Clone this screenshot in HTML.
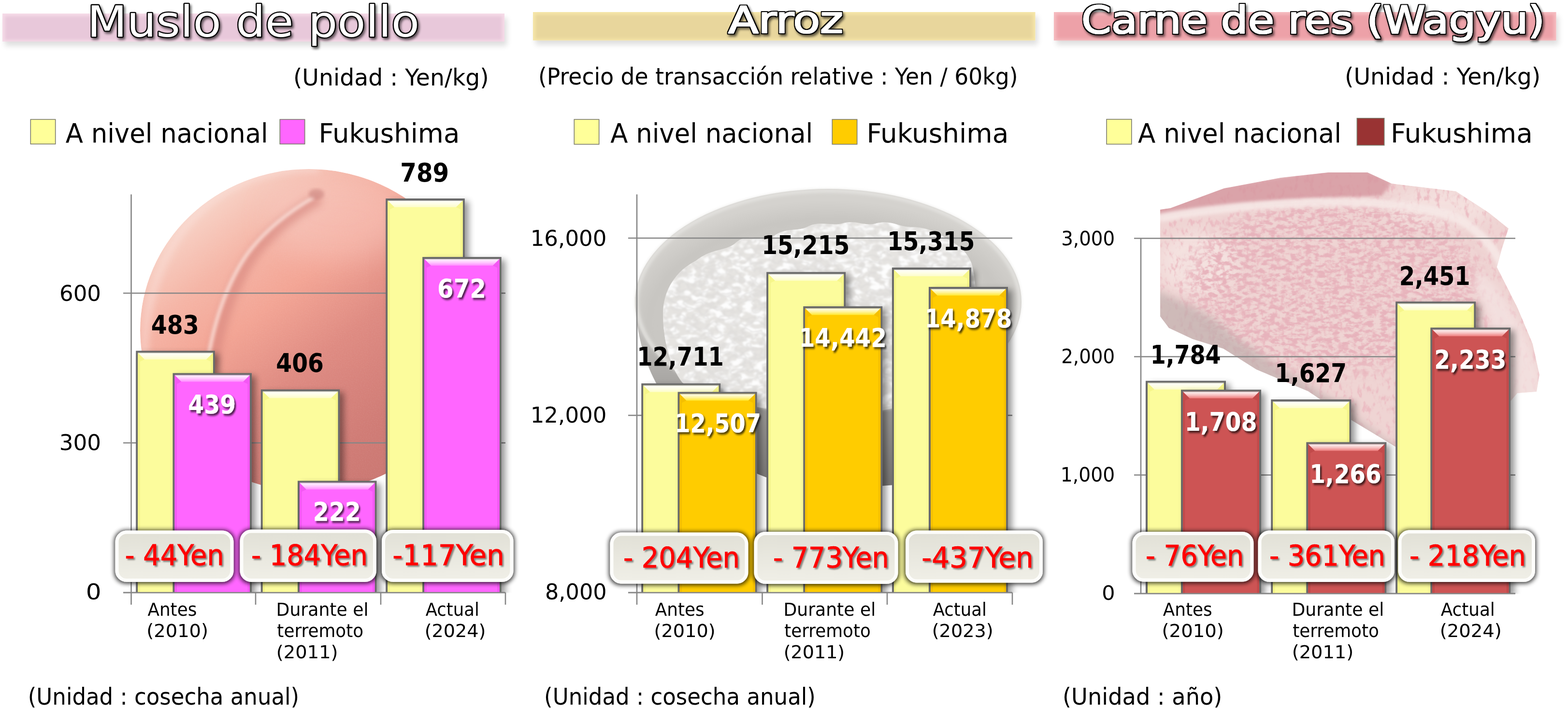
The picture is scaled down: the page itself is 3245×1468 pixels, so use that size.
<!DOCTYPE html>
<html><head><meta charset="utf-8"><title>Precios</title>
<style>html,body{margin:0;padding:0;background:#fff;width:3245px;height:1468px;overflow:hidden}svg{display:block}</style>
</head><body>
<svg width="3245" height="1468" viewBox="0 0 3245 1468" font-family="'DejaVu Sans', 'Liberation Sans', sans-serif">

<defs>
 <filter id="fBanner" x="-5%" y="-40%" width="115%" height="220%">
  <feGaussianBlur in="SourceAlpha" stdDeviation="6"/>
  <feOffset dx="5" dy="9" result="b"/>
  <feComponentTransfer><feFuncA type="linear" slope="0.13"/></feComponentTransfer>
  <feMerge><feMergeNode/><feMergeNode in="SourceGraphic"/></feMerge>
 </filter>
 <filter id="fSoft" x="-2%" y="-10%" width="104%" height="120%">
  <feGaussianBlur stdDeviation="1.2"/>
 </filter>
 <filter id="fTitle" x="-5%" y="-20%" width="110%" height="140%">
  <feGaussianBlur in="SourceAlpha" stdDeviation="2.4"/>
  <feOffset dx="3" dy="3.5"/>
  <feComponentTransfer><feFuncA type="linear" slope="0.6"/></feComponentTransfer>
  <feMerge><feMergeNode/><feMergeNode in="SourceGraphic"/></feMerge>
 </filter>
 <filter id="fTitle2" x="-5%" y="-30%" width="110%" height="170%">
  <feMorphology in="SourceAlpha" operator="dilate" radius="2.3" result="dil"/>
  <feFlood flood-color="#000" result="fl"/>
  <feComposite in="fl" in2="dil" operator="in" result="outline"/>
  <feGaussianBlur in="dil" stdDeviation="2.4" result="sb"/>
  <feOffset in="sb" dx="3" dy="3.5" result="so"/>
  <feComponentTransfer in="so" result="shadow"><feFuncA type="linear" slope="0.6"/></feComponentTransfer>
  <feMerge><feMergeNode in="shadow"/><feMergeNode in="outline"/><feMergeNode in="SourceGraphic"/></feMerge>
 </filter>
 <filter id="fBar" x="-10%" y="-5%" width="130%" height="110%">
  <feGaussianBlur in="SourceAlpha" stdDeviation="7"/>
  <feOffset dx="8" dy="6"/>
  <feComponentTransfer><feFuncA type="linear" slope="0.42"/></feComponentTransfer>
  <feMerge><feMergeNode/><feMergeNode in="SourceGraphic"/></feMerge>
 </filter>
 <filter id="fWhite" x="-10%" y="-20%" width="130%" height="150%">
  <feGaussianBlur in="SourceAlpha" stdDeviation="2"/>
  <feOffset dx="3" dy="4"/>
  <feComponentTransfer><feFuncA type="linear" slope="0.7"/></feComponentTransfer>
  <feMerge><feMergeNode/><feMergeNode in="SourceGraphic"/></feMerge>
 </filter>
 <filter id="fRed" x="-10%" y="-20%" width="130%" height="150%">
  <feGaussianBlur in="SourceAlpha" stdDeviation="1.8"/>
  <feOffset dx="3" dy="3"/>
  <feComponentTransfer><feFuncA type="linear" slope="0.45"/></feComponentTransfer>
  <feMerge><feMergeNode/><feMergeNode in="SourceGraphic"/></feMerge>
 </filter>
 <filter id="fBox" x="-10%" y="-20%" width="120%" height="150%">
  <feMorphology in="SourceAlpha" operator="dilate" radius="2" result="d"/>
  <feGaussianBlur in="d" stdDeviation="5"/>
  <feOffset dx="0" dy="1"/>
  <feComponentTransfer><feFuncA type="linear" slope="0.8"/></feComponentTransfer>
  <feMerge><feMergeNode/><feMergeNode in="SourceGraphic"/></feMerge>
 </filter>
 <filter id="fBlur3"><feGaussianBlur stdDeviation="3"/></filter>
 <filter id="fBlur8" x="-20%" y="-20%" width="140%" height="140%"><feGaussianBlur stdDeviation="8"/></filter>
 <filter id="fBlur15" x="-30%" y="-30%" width="160%" height="160%"><feGaussianBlur stdDeviation="15"/></filter>
 <filter id="fBlur30" x="-50%" y="-50%" width="200%" height="200%"><feGaussianBlur stdDeviation="30"/></filter>
 <linearGradient id="gBoxFill" x1="0" y1="0" x2="0" y2="1">
  <stop offset="0" stop-color="#e1e0d6"/><stop offset="0.45" stop-color="#e8e7de"/><stop offset="1" stop-color="#f0efe7"/>
 </linearGradient>
 <linearGradient id="gTopBevel" x1="0" y1="0" x2="0" y2="1">
  <stop offset="0" stop-color="#fff" stop-opacity="0.95"/><stop offset="0.5" stop-color="#fff" stop-opacity="0.55"/><stop offset="1" stop-color="#fff" stop-opacity="0"/>
 </linearGradient>
 <linearGradient id="gLeftBevel" x1="0" y1="0" x2="1" y2="0">
  <stop offset="0" stop-color="#000" stop-opacity="0.25"/><stop offset="1" stop-color="#000" stop-opacity="0"/>
 </linearGradient>
 <linearGradient id="gRightBevel" x1="1" y1="0" x2="0" y2="0">
  <stop offset="0" stop-color="#000" stop-opacity="0.3"/><stop offset="1" stop-color="#000" stop-opacity="0"/>
 </linearGradient>
 <linearGradient id="gPeachL" x1="0.15" y1="0.1" x2="0.85" y2="0.95">
  <stop offset="0" stop-color="#f8d8cc"/><stop offset="0.2" stop-color="#f5b5a6"/><stop offset="0.36" stop-color="#f3a494"/><stop offset="0.56" stop-color="#de8a81"/><stop offset="0.8" stop-color="#d07b75"/><stop offset="1" stop-color="#c87570"/>
 </linearGradient>
 <linearGradient id="gBowlBody" x1="0" y1="0" x2="0" y2="1">
  <stop offset="0" stop-color="#d0cecb"/><stop offset="0.45" stop-color="#a8a6a3"/><stop offset="1" stop-color="#787674"/>
 </linearGradient>
 <radialGradient id="gBowlIn" cx="0.5" cy="0.6" r="0.55">
  <stop offset="0" stop-color="#d6d4d0"/><stop offset="0.85" stop-color="#c8c6c2"/><stop offset="1" stop-color="#d4d2ce"/>
 </radialGradient>
 <radialGradient id="gRice" cx="0.5" cy="0.45" r="0.55">
  <stop offset="0" stop-color="#fbfbfb"/><stop offset="0.8" stop-color="#efefef"/><stop offset="1" stop-color="#e0e0e0"/>
 </radialGradient>
 <filter id="fRiceTex" x="0" y="0" width="100%" height="100%">
  <feTurbulence type="fractalNoise" baseFrequency="0.05 0.075" numOctaves="2" seed="3" result="n"/>
  <feColorMatrix in="n" type="matrix" values="0 0 0 0 0.98  0 0 0 0 0.98  0 0 0 0 0.98  0 0 0 -6 3.3" result="m"/>
  <feGaussianBlur stdDeviation="1.5"/>
  <feComposite in2="SourceGraphic" operator="in"/>
 </filter>
 <filter id="fRiceTex2" x="0" y="0" width="100%" height="100%">
  <feTurbulence type="fractalNoise" baseFrequency="0.045 0.07" numOctaves="2" seed="3" result="n"/>
  <feColorMatrix in="n" type="matrix" values="0 0 0 0 0.72  0 0 0 0 0.71  0 0 0 0 0.70  0 0 0 1 0" result="m"/>
  <feComponentTransfer><feFuncA type="table" tableValues="0 0 0 0 0 0.2 0.9 0.5 0 0 0 0"/></feComponentTransfer>
  <feGaussianBlur stdDeviation="1.3"/>
  <feComposite in2="SourceGraphic" operator="in"/>
 </filter>
 <filter id="fMeatTex" x="0" y="0" width="100%" height="100%">
  <feTurbulence type="fractalNoise" baseFrequency="0.10 0.055" numOctaves="3" seed="7" result="n"/>
  <feColorMatrix in="n" type="matrix" values="0 0 0 0 0.83  0 0 0 0 0.50  0 0 0 0 0.54  1 0 0 0 0" result="m"/>
  <feComponentTransfer><feFuncA type="table" tableValues="0 0 0 0 0 0 0.25 0.8 0.95 1 1"/></feComponentTransfer>
  <feComposite in2="SourceGraphic" operator="in"/>
 </filter>
 <filter id="fMeatTex2" x="0" y="0" width="100%" height="100%">
  <feTurbulence type="fractalNoise" baseFrequency="0.07 0.12" numOctaves="3" seed="11" result="n"/>
  <feColorMatrix in="n" type="matrix" values="0 0 0 0 0.80  0 0 0 0 0.45  0 0 0 0 0.50  1 0 0 0 0" result="m"/>
  <feComponentTransfer><feFuncA type="table" tableValues="0 0 0 0 0 0.3 0.85 1 1 1 1"/></feComponentTransfer>
  <feComposite in2="SourceGraphic" operator="in"/>
 </filter>
 <filter id="fPeachTex" x="0" y="0" width="100%" height="100%">
  <feTurbulence type="fractalNoise" baseFrequency="0.5" numOctaves="1" seed="2" result="n"/>
  <feColorMatrix in="n" type="matrix" values="0 0 0 0 1  0 0 0 0 0.95  0 0 0 0 0.92  0 0 0 -1.2 0.75" result="m"/>
  <feComposite in="m" in2="SourceGraphic" operator="in"/>
 </filter>
</defs>

<rect width="3245" height="1468" fill="#fff"/>
<g filter="url(#fBanner)"><rect x="5" y="28" width="1039" height="58" fill="#f6dbe8"/></g>
<rect x="10" y="33" width="1029" height="50" fill="#e8c8da" filter="url(#fBlur3)"/>
<g filter="url(#fBanner)"><rect x="1103" y="25" width="1039.5" height="58.599999999999994" fill="#f6e6a8"/></g>
<rect x="1108" y="30" width="1029.5" height="50.599999999999994" fill="#e8d69c" filter="url(#fBlur3)"/>
<g filter="url(#fBanner)"><rect x="2181" y="25" width="1039.5" height="58.8" fill="#f6bcc0"/></g>
<rect x="2186" y="30" width="1029.5" height="50.8" fill="#eda1a8" filter="url(#fBlur3)"/>
<clipPath id="cpPeach"><ellipse cx="639" cy="684" rx="349" ry="334"/></clipPath>
<g id="peach" clip-path="url(#cpPeach)">
<ellipse cx="639" cy="684" rx="349" ry="334" fill="url(#gPeachL)"/>
<ellipse cx="700" cy="450" rx="150" ry="90" fill="#f9d6d0" opacity="0.35" filter="url(#fBlur30)"/>
<path d="M300,760 C290,600 360,430 520,370 C580,350 630,345 660,350" fill="none" stroke="#fbe3de" stroke-width="14" opacity="0.6" filter="url(#fBlur8)"/>
<ellipse cx="639" cy="684" rx="349" ry="334" fill="#fff" filter="url(#fPeachTex)" opacity="0.12"/>
<path d="M662,410 C610,440 560,478 522,530 C485,585 455,660 440,760" fill="none" stroke="#d4837b" stroke-width="24" opacity="0.6" filter="url(#fBlur8)"/>
<path d="M650,408 C598,438 548,476 510,528 C473,583 443,658 428,758" fill="none" stroke="#fde6e0" stroke-width="7" opacity="0.8" filter="url(#fBlur3)"/>
<ellipse cx="655" cy="402" rx="16" ry="11" fill="#c9837e" opacity="0.55" filter="url(#fBlur3)"/>
</g>
<g id="bowl">
<path d="M1314,615 C1318,740 1360,820 1440,900 C1500,950 1560,985 1620,998 C1700,1010 1800,1010 1860,1003 C1960,930 2060,800 2113,625 Z" fill="url(#gBowlBody)"/>
<ellipse cx="1714" cy="625" rx="400" ry="234" fill="url(#gBowlIn)"/>
<ellipse cx="1714" cy="625" rx="396" ry="230" fill="none" stroke="#e6e5e2" stroke-width="7" opacity="0.9" filter="url(#fBlur3)"/>
<path d="M1372,650 C1372,600 1400,560 1440,540 C1470,515 1500,520 1520,505 C1545,480 1575,500 1600,490 C1625,470 1650,480 1670,470 C1700,455 1720,470 1745,462 C1775,455 1790,470 1815,462 C1845,455 1860,470 1885,470 C1915,470 1940,480 1960,495 C1990,510 2010,530 2014,560 C2024,620 2030,700 2012,760 C1962,822 1850,850 1714,852 C1580,852 1470,832 1412,792 C1386,760 1372,700 1372,650 Z" fill="#e6e4e1"/>
<path d="M1372,650 C1372,600 1400,560 1440,540 C1470,515 1500,520 1520,505 C1545,480 1575,500 1600,490 C1625,470 1650,480 1670,470 C1700,455 1720,470 1745,462 C1775,455 1790,470 1815,462 C1845,455 1860,470 1885,470 C1915,470 1940,480 1960,495 C1990,510 2010,530 2014,560 C2024,620 2030,700 2012,760 C1962,822 1850,850 1714,852 C1580,852 1470,832 1412,792 C1386,760 1372,700 1372,650 Z" fill="#fff" filter="url(#fRiceTex)"/>
<path d="M1372,650 C1372,600 1400,560 1440,540 C1470,515 1500,520 1520,505 C1545,480 1575,500 1600,490 C1625,470 1650,480 1670,470 C1700,455 1720,470 1745,462 C1775,455 1790,470 1815,462 C1845,455 1860,470 1885,470 C1915,470 1940,480 1960,495 C1990,510 2010,530 2014,560 C2024,620 2030,700 2012,760 C1962,822 1850,850 1714,852 C1580,852 1470,832 1412,792 C1386,760 1372,700 1372,650 Z" fill="#fff" filter="url(#fRiceTex2)" opacity="0.7"/>
</g>
<clipPath id="cpMeat"><path d="M2401,434 L2422,431 L2533,390 L2650,368 L2749,357 L2830,357 L2880,380 L3013,396 L3082,441 L3122,473 L3108,516 L3098,553 L3141,638 L3172,712 L3186,776 L3180,811 L3140,814 L3110,850 L2888,925 L2797,870 L2707,810 L2600,765 L2532,722 L2468,702 L2419,679 L2401,655 Z"/></clipPath>
<mask id="mMeatC"><rect x="2300" y="300" width="945" height="700" fill="#000"/><ellipse cx="2760" cy="590" rx="300" ry="180" fill="#fff" filter="url(#fBlur15)"/></mask>
<g id="meat" clip-path="url(#cpMeat)">
<path d="M2401,434 L2422,431 L2533,390 L2650,368 L2749,357 L2830,357 L2880,380 L3013,396 L3082,441 L3122,473 L3108,516 L3098,553 L3141,638 L3172,712 L3186,776 L3180,811 L3140,814 L3110,850 L2888,925 L2797,870 L2707,810 L2600,765 L2532,722 L2468,702 L2419,679 L2401,655 Z" fill="#efd4d3"/>
<ellipse cx="2480" cy="545" rx="80" ry="65" fill="#f5e3e1" opacity="0.9" filter="url(#fBlur15)"/>
<ellipse cx="2980" cy="430" rx="110" ry="40" fill="#f5e3e1" opacity="0.8" filter="url(#fBlur15)"/>
<path d="M2401,434 L2422,431 L2533,390 L2650,368 L2749,357 L2830,357 L2880,380 L3013,396 L3082,441 L3122,473 L3108,516 L3098,553 L3141,638 L3172,712 L3186,776 L3180,811 L3140,814 L3110,850 L2888,925 L2797,870 L2707,810 L2600,765 L2532,722 L2468,702 L2419,679 L2401,655 Z" fill="#fff" filter="url(#fMeatTex)"/>
<path d="M2401,434 L2422,431 L2533,390 L2650,368 L2749,357 L2830,357 L2880,380 L3013,396 L3082,441 L3122,473 L3108,516 L3098,553 L3141,638 L3172,712 L3186,776 L3180,811 L3140,814 L3110,850 L2888,925 L2797,870 L2707,810 L2600,765 L2532,722 L2468,702 L2419,679 L2401,655 Z" fill="#fff" filter="url(#fMeatTex2)" mask="url(#mMeatC)"/>
<path d="M2390,420 L2533,385 L2749,352 L2830,352 L2880,378 L2860,405 L2700,412 L2560,425 L2390,450 Z" fill="#d3939b" opacity="0.75" filter="url(#fBlur3)"/>
<path d="M2395,452 C2500,432 2600,424 2700,420 C2820,416 2920,422 3000,445 C3060,470 3100,520 3120,575" fill="none" stroke="#f6e8e6" stroke-width="18" opacity="0.9" filter="url(#fBlur3)"/>
<path d="M3060,560 C3110,600 3160,680 3190,790 L3190,830 L3120,830 C3110,720 3080,640 3050,590 Z" fill="#f4e4e3" opacity="0.7" filter="url(#fBlur8)"/>
<path d="M2390,600 C2440,620 2480,640 2520,665 L2560,700 L2650,760 L2760,830 L2900,935 L2380,935 Z" fill="#b8a9a7" opacity="0.6" filter="url(#fBlur8)"/>
</g>
<line x1="255" y1="607" x2="1046" y2="607" stroke="#868686" stroke-width="2.6"/>
<line x1="255" y1="917" x2="1046" y2="917" stroke="#868686" stroke-width="2.6"/>
<line x1="255" y1="1227" x2="1046" y2="1227" stroke="#868686" stroke-width="2.6"/>
<line x1="271.5" y1="402.5" x2="271.5" y2="1252" stroke="#868686" stroke-width="2.6"/>
<line x1="529" y1="1227" x2="529" y2="1252" stroke="#868686" stroke-width="2.6"/>
<line x1="788" y1="1227" x2="788" y2="1252" stroke="#868686" stroke-width="2.6"/>
<line x1="1046" y1="1227" x2="1046" y2="1252" stroke="#868686" stroke-width="2.6"/>
<line x1="1300" y1="493" x2="2095" y2="493" stroke="#868686" stroke-width="2.6"/>
<line x1="1300" y1="860" x2="1328" y2="860" stroke="#868686" stroke-width="2.6"/>
<line x1="2085" y1="860" x2="2095" y2="860" stroke="#868686" stroke-width="2.6"/>
<line x1="1300" y1="1227" x2="2095" y2="1227" stroke="#868686" stroke-width="2.6"/>
<line x1="1318" y1="402.5" x2="1318" y2="1252" stroke="#868686" stroke-width="2.6"/>
<line x1="1577.5" y1="1227" x2="1577.5" y2="1252" stroke="#868686" stroke-width="2.6"/>
<line x1="1836" y1="1227" x2="1836" y2="1252" stroke="#868686" stroke-width="2.6"/>
<line x1="2095" y1="1227" x2="2095" y2="1252" stroke="#868686" stroke-width="2.6"/>
<line x1="2347" y1="493.5" x2="3136" y2="493.5" stroke="#868686" stroke-width="2.6"/>
<line x1="2347" y1="738.5" x2="3136" y2="738.5" stroke="#868686" stroke-width="2.6"/>
<line x1="2347" y1="983.5" x2="3136" y2="983.5" stroke="#868686" stroke-width="2.6"/>
<line x1="2347" y1="1229" x2="3136" y2="1229" stroke="#868686" stroke-width="2.6"/>
<line x1="2361" y1="493.5" x2="2361" y2="1229" stroke="#868686" stroke-width="2.6"/>
<clipPath id="cpBars0"><rect x="0" y="0" width="3245" height="1227.5"/></clipPath>
<g clip-path="url(#cpBars0)">
<g filter="url(#fBar)"><rect x="281.3" y="726.3" width="163.5" height="500.7" fill="#6a6a6a"/></g>
<rect x="285.3" y="730.3" width="155.5" height="496.7" fill="#fcfc9c"/>
<polygon points="285.3,730.3 299.3,744.3 289.8,748.8 289.8,1227.0 285.3,1227.0" fill="#f6f68a"/>
<polygon points="440.8,730.3 426.8,744.3 436.3,748.8 436.3,1227.0 440.8,1227.0" fill="#f6f68a"/>
<polygon points="285.3,730.3 440.8,730.3 426.8,744.3 299.3,744.3" fill="#fdfdc8"/>
<polygon points="285.3,730.3 440.8,730.3 426.8,744.3 299.3,744.3" fill="url(#gTopBevel)"/>
<rect x="285.3" y="730.3" width="155.5" height="1.2" fill="#000" opacity="0.25"/>
<g filter="url(#fBar)"><rect x="357.5" y="772.5" width="163.5" height="454.5" fill="#6a6a6a"/></g>
<rect x="361.5" y="776.5" width="155.5" height="450.5" fill="#ff66ff"/>
<polygon points="361.5,776.5 375.5,790.5 366.0,795.0 366.0,1227.0 361.5,1227.0" fill="#f458f4"/>
<polygon points="517.0,776.5 503.0,790.5 512.5,795.0 512.5,1227.0 517.0,1227.0" fill="#f458f4"/>
<polygon points="361.5,776.5 517.0,776.5 503.0,790.5 375.5,790.5" fill="#ff8cff"/>
<polygon points="361.5,776.5 517.0,776.5 503.0,790.5 375.5,790.5" fill="url(#gTopBevel)"/>
<rect x="361.5" y="776.5" width="155.5" height="1.2" fill="#000" opacity="0.25"/>
<g filter="url(#fBar)"><rect x="539.8" y="806.3" width="163.5" height="420.7" fill="#6a6a6a"/></g>
<rect x="543.8" y="810.3" width="155.5" height="416.7" fill="#fcfc9c"/>
<polygon points="543.8,810.3 557.8,824.3 548.3,828.8 548.3,1227.0 543.8,1227.0" fill="#f6f68a"/>
<polygon points="699.3,810.3 685.3,824.3 694.8,828.8 694.8,1227.0 699.3,1227.0" fill="#f6f68a"/>
<polygon points="543.8,810.3 699.3,810.3 685.3,824.3 557.8,824.3" fill="#fdfdc8"/>
<polygon points="543.8,810.3 699.3,810.3 685.3,824.3 557.8,824.3" fill="url(#gTopBevel)"/>
<rect x="543.8" y="810.3" width="155.5" height="1.2" fill="#000" opacity="0.25"/>
<g filter="url(#fBar)"><rect x="616.0" y="995.5" width="163.5" height="231.5" fill="#6a6a6a"/></g>
<rect x="620.0" y="999.5" width="155.5" height="227.5" fill="#ff66ff"/>
<polygon points="620.0,999.5 634.0,1013.5 624.5,1018.0 624.5,1227.0 620.0,1227.0" fill="#f458f4"/>
<polygon points="775.5,999.5 761.5,1013.5 771.0,1018.0 771.0,1227.0 775.5,1227.0" fill="#f458f4"/>
<polygon points="620.0,999.5 775.5,999.5 761.5,1013.5 634.0,1013.5" fill="#ff8cff"/>
<polygon points="620.0,999.5 775.5,999.5 761.5,1013.5 634.0,1013.5" fill="url(#gTopBevel)"/>
<rect x="620.0" y="999.5" width="155.5" height="1.2" fill="#000" opacity="0.25"/>
<g filter="url(#fBar)"><rect x="798.3" y="411.0" width="163.5" height="816.0" fill="#6a6a6a"/></g>
<rect x="802.3" y="415.0" width="155.5" height="812.0" fill="#fcfc9c"/>
<polygon points="802.3,415.0 816.3,429.0 806.8,433.5 806.8,1227.0 802.3,1227.0" fill="#f6f68a"/>
<polygon points="957.8,415.0 943.8,429.0 953.3,433.5 953.3,1227.0 957.8,1227.0" fill="#f6f68a"/>
<polygon points="802.3,415.0 957.8,415.0 943.8,429.0 816.3,429.0" fill="#fdfdc8"/>
<polygon points="802.3,415.0 957.8,415.0 943.8,429.0 816.3,429.0" fill="url(#gTopBevel)"/>
<rect x="802.3" y="415.0" width="155.5" height="1.2" fill="#000" opacity="0.25"/>
<g filter="url(#fBar)"><rect x="874.2" y="532.1" width="163.5" height="694.9" fill="#6a6a6a"/></g>
<rect x="878.2" y="536.1" width="155.5" height="690.9" fill="#ff66ff"/>
<polygon points="878.2,536.1 892.2,550.1 882.7,554.6 882.7,1227.0 878.2,1227.0" fill="#f458f4"/>
<polygon points="1033.7,536.1 1019.7,550.1 1029.2,554.6 1029.2,1227.0 1033.7,1227.0" fill="#f458f4"/>
<polygon points="878.2,536.1 1033.7,536.1 1019.7,550.1 892.2,550.1" fill="#ff8cff"/>
<polygon points="878.2,536.1 1033.7,536.1 1019.7,550.1 892.2,550.1" fill="url(#gTopBevel)"/>
<rect x="878.2" y="536.1" width="155.5" height="1.2" fill="#000" opacity="0.25"/>
</g>
<clipPath id="cpBars1"><rect x="0" y="0" width="3245" height="1227.5"/></clipPath>
<g clip-path="url(#cpBars1)">
<g filter="url(#fBar)"><rect x="1327.3" y="793.8" width="164.0" height="433.2" fill="#6a6a6a"/></g>
<rect x="1331.3" y="797.8" width="156.0" height="429.2" fill="#fcfc9c"/>
<polygon points="1331.3,797.8 1345.3,811.8 1335.8,816.3 1335.8,1227.0 1331.3,1227.0" fill="#f6f68a"/>
<polygon points="1487.3,797.8 1473.3,811.8 1482.8,816.3 1482.8,1227.0 1487.3,1227.0" fill="#f6f68a"/>
<polygon points="1331.3,797.8 1487.3,797.8 1473.3,811.8 1345.3,811.8" fill="#fdfdc8"/>
<polygon points="1331.3,797.8 1487.3,797.8 1473.3,811.8 1345.3,811.8" fill="url(#gTopBevel)"/>
<rect x="1331.3" y="797.8" width="156.0" height="1.2" fill="#000" opacity="0.25"/>
<g filter="url(#fBar)"><rect x="1402.6" y="811.5" width="164.0" height="415.5" fill="#6a6a6a"/></g>
<rect x="1406.6" y="815.5" width="156.0" height="411.5" fill="#ffcc00"/>
<polygon points="1406.6,815.5 1420.6,829.5 1411.1,834.0 1411.1,1227.0 1406.6,1227.0" fill="#f5c000"/>
<polygon points="1562.6,815.5 1548.6,829.5 1558.1,834.0 1558.1,1227.0 1562.6,1227.0" fill="#f5c000"/>
<polygon points="1406.6,815.5 1562.6,815.5 1548.6,829.5 1420.6,829.5" fill="#ffe830"/>
<polygon points="1406.6,815.5 1562.6,815.5 1548.6,829.5 1420.6,829.5" fill="url(#gTopBevel)"/>
<rect x="1406.6" y="815.5" width="156.0" height="1.2" fill="#000" opacity="0.25"/>
<g filter="url(#fBar)"><rect x="1586.2" y="563.3" width="164.0" height="663.7" fill="#6a6a6a"/></g>
<rect x="1590.2" y="567.3" width="156.0" height="659.7" fill="#fcfc9c"/>
<polygon points="1590.2,567.3 1604.2,581.3 1594.7,585.8 1594.7,1227.0 1590.2,1227.0" fill="#f6f68a"/>
<polygon points="1746.2,567.3 1732.2,581.3 1741.7,585.8 1741.7,1227.0 1746.2,1227.0" fill="#f6f68a"/>
<polygon points="1590.2,567.3 1746.2,567.3 1732.2,581.3 1604.2,581.3" fill="#fdfdc8"/>
<polygon points="1590.2,567.3 1746.2,567.3 1732.2,581.3 1604.2,581.3" fill="url(#gTopBevel)"/>
<rect x="1590.2" y="567.3" width="156.0" height="1.2" fill="#000" opacity="0.25"/>
<g filter="url(#fBar)"><rect x="1662.3" y="634.2" width="164.0" height="592.8" fill="#6a6a6a"/></g>
<rect x="1666.3" y="638.2" width="156.0" height="588.8" fill="#ffcc00"/>
<polygon points="1666.3,638.2 1680.3,652.2 1670.8,656.7 1670.8,1227.0 1666.3,1227.0" fill="#f5c000"/>
<polygon points="1822.3,638.2 1808.3,652.2 1817.8,656.7 1817.8,1227.0 1822.3,1227.0" fill="#f5c000"/>
<polygon points="1666.3,638.2 1822.3,638.2 1808.3,652.2 1680.3,652.2" fill="#ffe830"/>
<polygon points="1666.3,638.2 1822.3,638.2 1808.3,652.2 1680.3,652.2" fill="url(#gTopBevel)"/>
<rect x="1666.3" y="638.2" width="156.0" height="1.2" fill="#000" opacity="0.25"/>
<g filter="url(#fBar)"><rect x="1846.0" y="554.0" width="164.0" height="673.0" fill="#6a6a6a"/></g>
<rect x="1850.0" y="558.0" width="156.0" height="669.0" fill="#fcfc9c"/>
<polygon points="1850.0,558.0 1864.0,572.0 1854.5,576.5 1854.5,1227.0 1850.0,1227.0" fill="#f6f68a"/>
<polygon points="2006.0,558.0 1992.0,572.0 2001.5,576.5 2001.5,1227.0 2006.0,1227.0" fill="#f6f68a"/>
<polygon points="1850.0,558.0 2006.0,558.0 1992.0,572.0 1864.0,572.0" fill="#fdfdc8"/>
<polygon points="1850.0,558.0 2006.0,558.0 1992.0,572.0 1864.0,572.0" fill="url(#gTopBevel)"/>
<rect x="1850.0" y="558.0" width="156.0" height="1.2" fill="#000" opacity="0.25"/>
<g filter="url(#fBar)"><rect x="1922.0" y="594.0" width="164.0" height="633.0" fill="#6a6a6a"/></g>
<rect x="1926.0" y="598.0" width="156.0" height="629.0" fill="#ffcc00"/>
<polygon points="1926.0,598.0 1940.0,612.0 1930.5,616.5 1930.5,1227.0 1926.0,1227.0" fill="#f5c000"/>
<polygon points="2082.0,598.0 2068.0,612.0 2077.5,616.5 2077.5,1227.0 2082.0,1227.0" fill="#f5c000"/>
<polygon points="1926.0,598.0 2082.0,598.0 2068.0,612.0 1940.0,612.0" fill="#ffe830"/>
<polygon points="1926.0,598.0 2082.0,598.0 2068.0,612.0 1940.0,612.0" fill="url(#gTopBevel)"/>
<rect x="1926.0" y="598.0" width="156.0" height="1.2" fill="#000" opacity="0.25"/>
</g>
<clipPath id="cpBars2"><rect x="0" y="0" width="3245" height="1229.5"/></clipPath>
<g clip-path="url(#cpBars2)">
<g filter="url(#fBar)"><rect x="2371.0" y="788.5" width="166.0" height="440.5" fill="#6a6a6a"/></g>
<rect x="2375.0" y="792.5" width="158.0" height="436.5" fill="#fcfc9c"/>
<polygon points="2375.0,792.5 2389.0,806.5 2379.5,811.0 2379.5,1229.0 2375.0,1229.0" fill="#f6f68a"/>
<polygon points="2533.0,792.5 2519.0,806.5 2528.5,811.0 2528.5,1229.0 2533.0,1229.0" fill="#f6f68a"/>
<polygon points="2375.0,792.5 2533.0,792.5 2519.0,806.5 2389.0,806.5" fill="#fdfdc8"/>
<polygon points="2375.0,792.5 2533.0,792.5 2519.0,806.5 2389.0,806.5" fill="url(#gTopBevel)"/>
<rect x="2375.0" y="792.5" width="158.0" height="1.2" fill="#000" opacity="0.25"/>
<g filter="url(#fBar)"><rect x="2444.0" y="806.8" width="166.0" height="422.2" fill="#6a6a6a"/></g>
<rect x="2448.0" y="810.8" width="158.0" height="418.2" fill="#cd5454"/>
<polygon points="2448.0,810.8 2462.0,824.8 2452.5,829.3 2452.5,1229.0 2448.0,1229.0" fill="#c24a4a"/>
<polygon points="2606.0,810.8 2592.0,824.8 2601.5,829.3 2601.5,1229.0 2606.0,1229.0" fill="#c24a4a"/>
<polygon points="2448.0,810.8 2606.0,810.8 2592.0,824.8 2462.0,824.8" fill="#ee7c7c"/>
<polygon points="2448.0,810.8 2606.0,810.8 2592.0,824.8 2462.0,824.8" fill="url(#gTopBevel)"/>
<rect x="2448.0" y="810.8" width="158.0" height="1.2" fill="#000" opacity="0.25"/>
<g filter="url(#fBar)"><rect x="2630.3" y="827.0" width="166.0" height="402.0" fill="#6a6a6a"/></g>
<rect x="2634.3" y="831.0" width="158.0" height="398.0" fill="#fcfc9c"/>
<polygon points="2634.3,831.0 2648.3,845.0 2638.8,849.5 2638.8,1229.0 2634.3,1229.0" fill="#f6f68a"/>
<polygon points="2792.3,831.0 2778.3,845.0 2787.8,849.5 2787.8,1229.0 2792.3,1229.0" fill="#f6f68a"/>
<polygon points="2634.3,831.0 2792.3,831.0 2778.3,845.0 2648.3,845.0" fill="#fdfdc8"/>
<polygon points="2634.3,831.0 2792.3,831.0 2778.3,845.0 2648.3,845.0" fill="url(#gTopBevel)"/>
<rect x="2634.3" y="831.0" width="158.0" height="1.2" fill="#000" opacity="0.25"/>
<g filter="url(#fBar)"><rect x="2703.3" y="915.5" width="166.0" height="313.5" fill="#6a6a6a"/></g>
<rect x="2707.3" y="919.5" width="158.0" height="309.5" fill="#cd5454"/>
<polygon points="2707.3,919.5 2721.3,933.5 2711.8,938.0 2711.8,1229.0 2707.3,1229.0" fill="#c24a4a"/>
<polygon points="2865.3,919.5 2851.3,933.5 2860.8,938.0 2860.8,1229.0 2865.3,1229.0" fill="#c24a4a"/>
<polygon points="2707.3,919.5 2865.3,919.5 2851.3,933.5 2721.3,933.5" fill="#ee7c7c"/>
<polygon points="2707.3,919.5 2865.3,919.5 2851.3,933.5 2721.3,933.5" fill="url(#gTopBevel)"/>
<rect x="2707.3" y="919.5" width="158.0" height="1.2" fill="#000" opacity="0.25"/>
<g filter="url(#fBar)"><rect x="2888.2" y="624.4" width="166.0" height="604.6" fill="#6a6a6a"/></g>
<rect x="2892.2" y="628.4" width="158.0" height="600.6" fill="#fcfc9c"/>
<polygon points="2892.2,628.4 2906.2,642.4 2896.7,646.9 2896.7,1229.0 2892.2,1229.0" fill="#f6f68a"/>
<polygon points="3050.2,628.4 3036.2,642.4 3045.7,646.9 3045.7,1229.0 3050.2,1229.0" fill="#f6f68a"/>
<polygon points="2892.2,628.4 3050.2,628.4 3036.2,642.4 2906.2,642.4" fill="#fdfdc8"/>
<polygon points="2892.2,628.4 3050.2,628.4 3036.2,642.4 2906.2,642.4" fill="url(#gTopBevel)"/>
<rect x="2892.2" y="628.4" width="158.0" height="1.2" fill="#000" opacity="0.25"/>
<g filter="url(#fBar)"><rect x="2960.3" y="678.3" width="166.0" height="550.7" fill="#6a6a6a"/></g>
<rect x="2964.3" y="682.3" width="158.0" height="546.7" fill="#cd5454"/>
<polygon points="2964.3,682.3 2978.3,696.3 2968.8,700.8 2968.8,1229.0 2964.3,1229.0" fill="#c24a4a"/>
<polygon points="3122.3,682.3 3108.3,696.3 3117.8,700.8 3117.8,1229.0 3122.3,1229.0" fill="#c24a4a"/>
<polygon points="2964.3,682.3 3122.3,682.3 3108.3,696.3 2978.3,696.3" fill="#ee7c7c"/>
<polygon points="2964.3,682.3 3122.3,682.3 3108.3,696.3 2978.3,696.3" fill="url(#gTopBevel)"/>
<rect x="2964.3" y="682.3" width="158.0" height="1.2" fill="#000" opacity="0.25"/>
</g>
<line x1="255" y1="1227" x2="1046" y2="1227" stroke="#868686" stroke-width="2.6"/>
<line x1="1300" y1="1227" x2="2095" y2="1227" stroke="#868686" stroke-width="2.6"/>
<line x1="2347" y1="1229" x2="3136" y2="1229" stroke="#868686" stroke-width="2.6"/>
<rect x="63.3" y="247.3" width="51.4" height="50.9" fill="#ffff99" stroke="#7c7c6c" stroke-width="1.6"/>
<rect x="579.3" y="247.3" width="51.4" height="50.9" fill="#ff66ff" stroke="#7c7c6c" stroke-width="1.6"/>
<rect x="1188.3" y="247.3" width="51.4" height="51.4" fill="#ffff99" stroke="#7c7c6c" stroke-width="1.6"/>
<rect x="1722.3" y="247.3" width="51.4" height="51.4" fill="#ffcc00" stroke="#7c7c6c" stroke-width="1.6"/>
<rect x="2290.1000000000004" y="247.0" width="51.699999999999726" height="51.50000000000002" fill="#ffff99" stroke="#7c7c6c" stroke-width="1.6"/>
<rect x="2808.3" y="244.8" width="56.4" height="55.9" fill="#993333" stroke="#7c7c6c" stroke-width="1.6"/>
<g filter="url(#fBox)"><rect x="242.0" y="1102.0" width="238.0" height="99.5" rx="20" ry="20" fill="url(#gBoxFill)" stroke="#fdfdfb" stroke-width="7"/></g>
<g filter="url(#fBox)"><rect x="500.0" y="1100.0" width="275.5" height="101.5" rx="20" ry="20" fill="url(#gBoxFill)" stroke="#fdfdfb" stroke-width="7"/></g>
<g filter="url(#fBox)"><rect x="793.5" y="1100.5" width="265.5" height="101.0" rx="20" ry="20" fill="url(#gBoxFill)" stroke="#fdfdfb" stroke-width="7"/></g>
<g filter="url(#fBox)"><rect x="1266.0" y="1106.0" width="279.0" height="99.0" rx="20" ry="20" fill="url(#gBoxFill)" stroke="#fdfdfb" stroke-width="7"/></g>
<g filter="url(#fBox)"><rect x="1564.0" y="1104.5" width="291.0" height="101.0" rx="20" ry="20" fill="url(#gBoxFill)" stroke="#fdfdfb" stroke-width="7"/></g>
<g filter="url(#fBox)"><rect x="1877.5" y="1102.0" width="277.0" height="101.0" rx="20" ry="20" fill="url(#gBoxFill)" stroke="#fdfdfb" stroke-width="7"/></g>
<g filter="url(#fBox)"><rect x="2347.0" y="1104.5" width="244.0" height="96.5" rx="20" ry="20" fill="url(#gBoxFill)" stroke="#fdfdfb" stroke-width="7"/></g>
<g filter="url(#fBox)"><rect x="2607.0" y="1102.0" width="275.5" height="99.5" rx="20" ry="20" fill="url(#gBoxFill)" stroke="#fdfdfb" stroke-width="7"/></g>
<g filter="url(#fBox)"><rect x="2897.0" y="1101.0" width="276.5" height="100.5" rx="20" ry="20" fill="url(#gBoxFill)" stroke="#fdfdfb" stroke-width="7"/></g>
<text transform="translate(180.46,75.50) scale(1.0667,1)" font-size="89.45" font-weight="400" fill="#fff" stroke="#000" stroke-width="4.6" paint-order="stroke" stroke-linejoin="round" filter="url(#fTitle)">Muslo de pollo</text>
<g filter="url(#fTitle2)">
<text transform="translate(1507.19,68.00) scale(1.1805,1)" font-size="77.40" font-weight="400" fill="#fff" stroke="#fff" stroke-width="2.2" stroke-linejoin="round">Arroz</text>
</g>
<g filter="url(#fTitle2)">
<text transform="translate(2237.99,68.60) scale(1.1268,1)" font-size="78.36" font-weight="400" fill="#fff" stroke="#fff" stroke-width="2.2" stroke-linejoin="round">Carne de res (Wagyu)</text>
</g>
<text transform="translate(606.90,177.00) scale(0.9873,1)" font-size="47.95" font-weight="400" fill="#000">(Unidad : Yen/kg)</text>
<text transform="translate(1114.04,175.00) scale(0.9520,1)" font-size="47.95" font-weight="400" fill="#000">(Precio de transacción relative : Yen / 60kg)</text>
<text transform="translate(2782.89,175.00) scale(0.9886,1)" font-size="47.95" font-weight="400" fill="#000">(Unidad : Yen/kg)</text>
<text transform="translate(135.65,295.00) scale(0.9534,1)" font-size="55.48" font-weight="400" fill="#000">A nivel nacional</text>
<text transform="translate(1263.15,295.00) scale(0.9534,1)" font-size="55.48" font-weight="400" fill="#000">A nivel nacional</text>
<text transform="translate(2354.95,295.00) scale(0.9574,1)" font-size="55.48" font-weight="400" fill="#000">A nivel nacional</text>
<text transform="translate(659.55,295.00) scale(0.9821,1)" font-size="55.48" font-weight="400" fill="#000">Fukushima</text>
<text transform="translate(1793.51,295.00) scale(0.9890,1)" font-size="55.48" font-weight="400" fill="#000">Fukushima</text>
<text transform="translate(2878.01,295.00) scale(0.9890,1)" font-size="55.48" font-weight="400" fill="#000">Fukushima</text>
<text transform="translate(122.99,623.00) scale(1.0133,1)" font-size="44.52" font-weight="400" fill="#000">600</text>
<text transform="translate(122.68,932.00) scale(1.0171,1)" font-size="44.52" font-weight="400" fill="#000">300</text>
<text transform="translate(177.67,1241.00) scale(1.1231,1)" font-size="44.52" font-weight="400" fill="#000">0</text>
<text transform="translate(1097.69,509.00) scale(1.0128,1)" font-size="44.52" font-weight="400" fill="#000">16,000</text>
<text transform="translate(1097.69,875.00) scale(1.0128,1)" font-size="44.52" font-weight="400" fill="#000">12,000</text>
<text transform="translate(1128.03,1241.00) scale(1.0009,1)" font-size="44.52" font-weight="400" fill="#000">8,000</text>
<text transform="translate(2196.16,507.50) scale(0.9598,1)" font-size="40.41" font-weight="400" fill="#000">3,000</text>
<text transform="translate(2196.16,751.50) scale(0.9598,1)" font-size="40.41" font-weight="400" fill="#000">2,000</text>
<text transform="translate(2194.81,997.00) scale(0.9717,1)" font-size="40.41" font-weight="400" fill="#000">1,000</text>
<text transform="translate(2280.13,1242.00) scale(1.0641,1)" font-size="40.41" font-weight="400" fill="#000">0</text>
<text transform="translate(312.79,690.50) scale(0.8881,1)" font-size="53.42" font-weight="700" fill="#000">483</text>
<text transform="translate(571.29,770.00) scale(0.8856,1)" font-size="53.42" font-weight="700" fill="#000">406</text>
<text transform="translate(828.27,376.00) scale(0.9056,1)" font-size="53.42" font-weight="700" fill="#000">789</text>
<text transform="translate(1318.22,756.50) scale(0.8723,1)" font-size="53.42" font-weight="700" fill="#000">12,711</text>
<text transform="translate(1576.15,526.00) scale(0.8841,1)" font-size="53.42" font-weight="700" fill="#000">15,215</text>
<text transform="translate(1836.18,517.50) scale(0.8790,1)" font-size="53.42" font-weight="700" fill="#000">15,315</text>
<text transform="translate(2380.77,752.50) scale(0.8641,1)" font-size="53.42" font-weight="700" fill="#000">1,784</text>
<text transform="translate(2638.17,791.00) scale(0.8802,1)" font-size="53.42" font-weight="700" fill="#000">1,627</text>
<text transform="translate(2895.78,590.00) scale(0.8696,1)" font-size="53.42" font-weight="700" fill="#000">2,451</text>
<text transform="translate(389.29,856.00) scale(0.8869,1)" font-size="53.42" font-weight="700" fill="#fff" filter="url(#fWhite)">439</text>
<text transform="translate(647.71,1077.50) scale(0.8872,1)" font-size="53.42" font-weight="700" fill="#fff" filter="url(#fWhite)">222</text>
<text transform="translate(905.11,616.00) scale(0.9021,1)" font-size="53.42" font-weight="700" fill="#fff" filter="url(#fWhite)">672</text>
<text transform="translate(1396.25,895.00) scale(0.8678,1)" font-size="53.42" font-weight="700" fill="#fff" filter="url(#fWhite)">12,507</text>
<text transform="translate(1653.67,717.50) scale(0.8796,1)" font-size="53.42" font-weight="700" fill="#fff" filter="url(#fWhite)">14,442</text>
<text transform="translate(1913.70,677.50) scale(0.8758,1)" font-size="53.42" font-weight="700" fill="#fff" filter="url(#fWhite)">14,878</text>
<text transform="translate(2451.63,891.50) scale(0.8868,1)" font-size="53.42" font-weight="700" fill="#fff" filter="url(#fWhite)">1,708</text>
<text transform="translate(2710.18,1000.00) scale(0.8786,1)" font-size="53.42" font-weight="700" fill="#fff" filter="url(#fWhite)">1,266</text>
<text transform="translate(2968.23,762.50) scale(0.8829,1)" font-size="53.42" font-weight="700" fill="#fff" filter="url(#fWhite)">2,233</text>
<text transform="translate(258.39,1170.00) scale(0.9612,1)" font-size="58.08" font-weight="400" fill="#ff0000" stroke="#ff0000" stroke-width="0.8" filter="url(#fRed)">- 44Yen</text>
<text transform="translate(519.89,1170.00) scale(0.9618,1)" font-size="58.08" font-weight="400" fill="#ff0000" stroke="#ff0000" stroke-width="0.8" filter="url(#fRed)">- 184Yen</text>
<text transform="translate(812.30,1170.00) scale(0.9974,1)" font-size="58.08" font-weight="400" fill="#ff0000" stroke="#ff0000" stroke-width="0.8" filter="url(#fRed)">-117Yen</text>
<text transform="translate(1289.89,1175.00) scale(0.9618,1)" font-size="58.08" font-weight="400" fill="#ff0000" stroke="#ff0000" stroke-width="0.8" filter="url(#fRed)">- 204Yen</text>
<text transform="translate(1599.90,1175.00) scale(0.9576,1)" font-size="58.08" font-weight="400" fill="#ff0000" stroke="#ff0000" stroke-width="0.8" filter="url(#fRed)">- 773Yen</text>
<text transform="translate(1907.30,1175.00) scale(0.9974,1)" font-size="58.08" font-weight="400" fill="#ff0000" stroke="#ff0000" stroke-width="0.8" filter="url(#fRed)">-437Yen</text>
<text transform="translate(2370.92,1171.00) scale(0.9515,1)" font-size="58.08" font-weight="400" fill="#ff0000" stroke="#ff0000" stroke-width="0.8" filter="url(#fRed)">- 76Yen</text>
<text transform="translate(2626.90,1171.00) scale(0.9576,1)" font-size="58.08" font-weight="400" fill="#ff0000" stroke="#ff0000" stroke-width="0.8" filter="url(#fRed)">- 361Yen</text>
<text transform="translate(2916.89,1171.00) scale(0.9618,1)" font-size="58.08" font-weight="400" fill="#ff0000" stroke="#ff0000" stroke-width="0.8" filter="url(#fRed)">- 218Yen</text>
<text transform="translate(305.46,1275.40) scale(0.9401,1)" font-size="38.08" font-weight="400" fill="#000">Antes</text>
<text transform="translate(303.27,1319.30) scale(1.0093,1)" font-size="38.08" font-weight="400" fill="#000">(2010)</text>
<text transform="translate(571.58,1275.40) scale(0.9504,1)" font-size="38.08" font-weight="400" fill="#000">Durante el</text>
<text transform="translate(573.35,1319.30) scale(0.9401,1)" font-size="38.08" font-weight="400" fill="#000">terremoto</text>
<text transform="translate(571.87,1363.20) scale(1.0084,1)" font-size="38.08" font-weight="400" fill="#000">(2011)</text>
<text transform="translate(880.76,1275.40) scale(0.9306,1)" font-size="38.08" font-weight="400" fill="#000">Actual</text>
<text transform="translate(878.70,1319.30) scale(1.0010,1)" font-size="38.08" font-weight="400" fill="#000">(2024)</text>
<text transform="translate(1355.76,1275.40) scale(0.9401,1)" font-size="38.08" font-weight="400" fill="#000">Antes</text>
<text transform="translate(1353.59,1319.30) scale(1.0043,1)" font-size="38.08" font-weight="400" fill="#000">(2010)</text>
<text transform="translate(1621.38,1275.40) scale(0.9499,1)" font-size="38.08" font-weight="400" fill="#000">Durante el</text>
<text transform="translate(1623.15,1319.30) scale(0.9401,1)" font-size="38.08" font-weight="400" fill="#000">terremoto</text>
<text transform="translate(1621.70,1363.20) scale(0.9993,1)" font-size="38.08" font-weight="400" fill="#000">(2011)</text>
<text transform="translate(1930.76,1275.40) scale(0.9306,1)" font-size="38.08" font-weight="400" fill="#000">Actual</text>
<text transform="translate(1928.69,1319.30) scale(1.0034,1)" font-size="38.08" font-weight="400" fill="#000">(2023)</text>
<text transform="translate(2406.76,1275.40) scale(0.9401,1)" font-size="38.08" font-weight="400" fill="#000">Antes</text>
<text transform="translate(2404.56,1319.30) scale(1.0126,1)" font-size="38.08" font-weight="400" fill="#000">(2010)</text>
<text transform="translate(2673.38,1275.40) scale(0.9499,1)" font-size="38.08" font-weight="400" fill="#000">Durante el</text>
<text transform="translate(2675.15,1319.30) scale(0.9401,1)" font-size="38.08" font-weight="400" fill="#000">terremoto</text>
<text transform="translate(2673.67,1363.20) scale(1.0076,1)" font-size="38.08" font-weight="400" fill="#000">(2011)</text>
<text transform="translate(2981.76,1275.40) scale(0.9393,1)" font-size="38.08" font-weight="400" fill="#000">Actual</text>
<text transform="translate(2979.66,1319.30) scale(1.0118,1)" font-size="38.08" font-weight="400" fill="#000">(2024)</text>
<text transform="translate(57.80,1459.00) scale(0.9396,1)" font-size="47.95" font-weight="400" fill="#000">(Unidad : cosecha anual)</text>
<text transform="translate(1126.09,1459.00) scale(0.9404,1)" font-size="47.95" font-weight="400" fill="#000">(Unidad : cosecha anual)</text>
<text transform="translate(2198.99,1459.00) scale(0.9655,1)" font-size="47.95" font-weight="400" fill="#000">(Unidad : año)</text>
</svg>
</body></html>
